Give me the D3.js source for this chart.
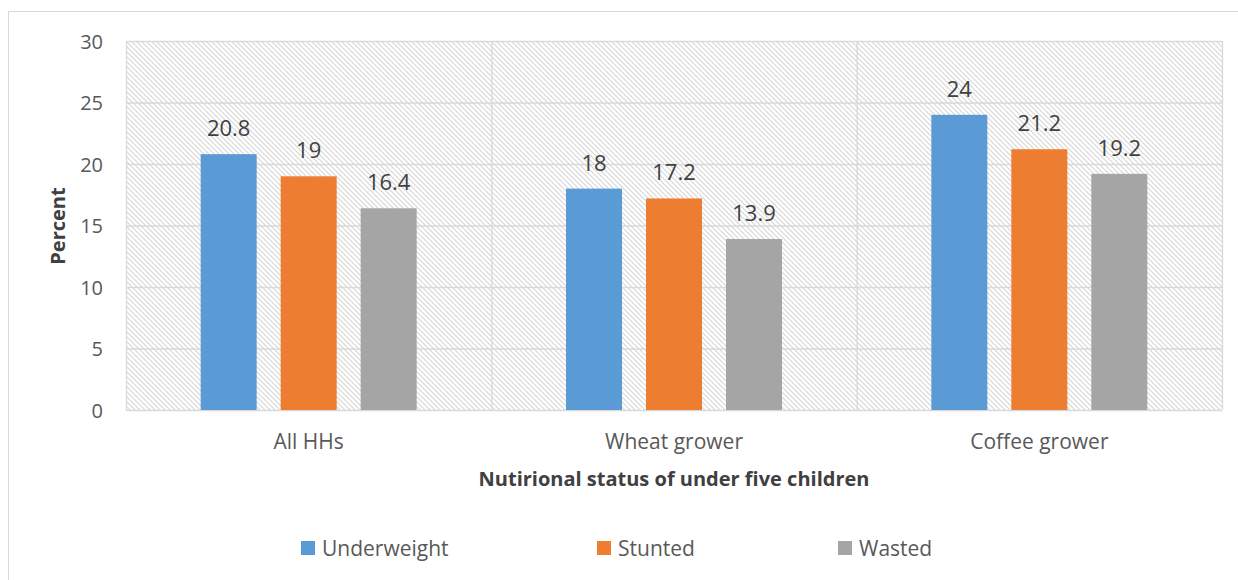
<!DOCTYPE html>
<html><head><meta charset="utf-8">
<script src="https://cdn.jsdelivr.net/npm/d3@7"></script>
<style>body{margin:0;background:#fff;}</style>
</head><body><svg id="c" width="1238" height="580"></svg>
<script>
const categories = ["All HHs", "Wheat grower", "Coffee grower"];
const seriesNames = ["Underweight", "Stunted", "Wasted"];
const seriesColors = ["#5b9bd5", "#ed7d31", "#a5a5a5"];
const underweight = [20.8, 18, 24];
const stunted = [19, 17.2, 21.2];
const wasted = [16.4, 13.9, 19.2];
const yTicks = [0, 5, 10, 15, 20, 25, 30];
const values = [underweight, stunted, wasted];

const svg = d3.select("#c");
const font = "'Open Sans', sans-serif";
svg.append("rect").attr("x", 8.5).attr("y", 11.5).attr("width", 1240).attr("height", 600)
  .attr("fill", "#fff").attr("stroke", "#d9d9d9");

const defs = svg.append("defs");
const pat = defs.append("pattern").attr("id", "hatch").attr("patternUnits", "userSpaceOnUse")
  .attr("width", 5).attr("height", 5);
pat.append("rect").attr("width", 5).attr("height", 5).attr("fill", "#fff");
pat.append("path").attr("d", "M-1,-1 L6,6 M-1,4 L1,6 M4,-1 L6,1").attr("stroke", "#d6d6d6").attr("stroke-width", 1.1);

const L = 126, R = 1222, T = 41, B = 410;
const x = d3.scaleBand().domain(categories).range([L, R]).padding(0);
const inner = d3.scaleBand().domain(seriesNames).range([0, 216]).paddingInner(0.3).paddingOuter(0);
const y = d3.scaleLinear().domain([0, 30]).range([B, T]);

svg.append("rect").attr("x", L).attr("y", T).attr("width", R - L).attr("height", B - T).attr("fill", "url(#hatch)");

svg.append("g").selectAll("line").data(yTicks).join("line")
  .attr("x1", L).attr("x2", R).attr("y1", d => y(d) + 0.5).attr("y2", d => y(d) + 0.5)
  .attr("stroke", "#d9d9d9").attr("stroke-width", 1.3);
const seps = categories.map(c => x(c)).concat([R]);
svg.append("g").selectAll("line").data(seps).join("line")
  .attr("x1", d => d + 0.5).attr("x2", d => d + 0.5).attr("y1", T).attr("y2", B)
  .attr("stroke", "#d9d9d9").attr("stroke-width", 1.3);

const yAxis = d3.axisLeft(y).tickValues(yTicks).tickSize(0).tickPadding(0);
const ya = svg.append("g").attr("transform", `translate(${L - 23},0)`).call(yAxis);
ya.select(".domain").remove();
ya.selectAll("text").attr("font-size", 20).attr("fill", "#595959").style("font-family", font).attr("dy", "0.35em");

const off = (x.bandwidth() - 216) / 2;
const groups = svg.append("g").selectAll("g").data(seriesNames).join("g");
groups.each(function (s, si) {
  d3.select(this).selectAll("rect").data(values[si]).join("rect")
    .attr("x", (d, i) => x(categories[i]) + off + inner(s))
    .attr("y", d => y(d)).attr("width", inner.bandwidth()).attr("height", d => B - y(d))
    .attr("fill", seriesColors[si]);
  d3.select(this).selectAll("text").data(values[si]).join("text")
    .attr("x", (d, i) => x(categories[i]) + off + inner(s) + inner.bandwidth() / 2)
    .attr("y", d => y(d) - 18).attr("text-anchor", "middle")
    .attr("font-size", 22).attr("fill", "#404040").style("font-family", font).text(d => d);
});

const xa = svg.append("g").attr("transform", `translate(0,${B})`).call(d3.axisBottom(x).tickSize(0).tickPadding(0));
xa.select(".domain").remove();
xa.selectAll("text").attr("font-size", 21).attr("fill", "#595959").style("font-family", font).attr("dy", "39");

svg.append("text").attr("x", 674).attr("y", 486).attr("text-anchor", "middle")
  .attr("font-size", 20).attr("font-weight", "bold").attr("fill", "#404040").style("font-family", font)
  .text("Nutirional status of under five children");
svg.append("text").attr("transform", "translate(65,226) rotate(-90)").attr("text-anchor", "middle")
  .attr("font-size", 20).attr("font-weight", "bold").attr("fill", "#404040").style("font-family", font)
  .text("Percent");

const lg = svg.append("g").selectAll("g").data(seriesNames).join("g")
  .attr("transform", (d, i) => `translate(${[301, 597, 838][i]},541)`);
lg.append("rect").attr("width", 14).attr("height", 14).attr("fill", (d, i) => seriesColors[i]);
lg.append("text").attr("x", 21).attr("y", 15).attr("font-size", 21).attr("fill", "#595959")
  .style("font-family", font).text(d => d);
</script></body></html>
